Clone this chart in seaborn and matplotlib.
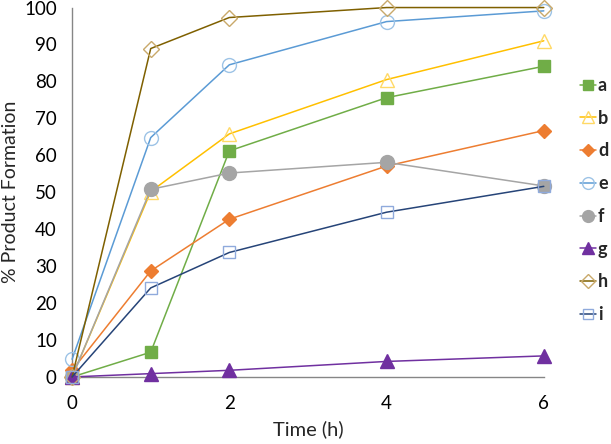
import matplotlib
matplotlib.use("Agg")
import matplotlib.pyplot as plt
import seaborn as sns
import pandas as pd

# time points (h)
time_h = [0, 1, 2, 4, 6]

# % product formation per catalyst
series_names = ["a", "b", "d", "e", "f", "g", "h", "i"]
vals_a = [0, 6.7, 61.2, 75.6, 84.1]
vals_b = [0, 50.2, 65.8, 80.5, 91.0]
vals_d = [1.8, 28.7, 42.7, 57.1, 66.7]
vals_e = [4.8, 64.8, 84.5, 96.2, 99.1]
vals_f = [0, 50.8, 55.2, 58.1, 51.7]
vals_g = [0, 0.9, 1.8, 4.2, 5.7]
vals_h = [0, 88.9, 97.3, 100, 100]
vals_i = [0, 24.1, 33.7, 44.6, 51.6]

all_vals = [vals_a, vals_b, vals_d, vals_e, vals_f, vals_g, vals_h, vals_i]

# styles: marker, line colour, face colour, edge colour
styles = {
    "a": ("s", "#70AD47", "#70AD47", "#70AD47"),
    "b": ("^", "#FFC000", "none", "#FFD966"),
    "d": ("D", "#ED7D31", "#ED7D31", "#ED7D31"),
    "e": ("o", "#5B9BD5", "none", "#9DC3E6"),
    "f": ("o", "#A5A5A5", "#A5A5A5", "#A5A5A5"),
    "g": ("^", "#7030A0", "#7030A0", "#7030A0"),
    "h": ("D", "#7F6000", "none", "#C9A96A"),
    "i": ("s", "#264478", "none", "#8FAADC"),
}
msizes = {"a": 9, "b": 10, "d": 7.5, "e": 10, "f": 10, "g": 10, "h": 8, "i": 9}

df = pd.DataFrame({"t": time_h})
for name, v in zip(series_names, all_vals):
    df[name] = v

sns.set_style("white")
plt.rcParams["font.family"] = ["Lato", "DejaVu Sans"]

fig = plt.figure(figsize=(6.11, 4.44), dpi=100)
ax = fig.add_axes([0.118, 0.151, 0.772, 0.832])

for name in series_names:
    mk, lc, fc, ec = styles[name]
    sns.lineplot(data=df, x="t", y=name, ax=ax, label=name, color=lc,
                 marker=mk, markersize=msizes[name], markerfacecolor=fc,
                 markeredgecolor=ec, markeredgewidth=1.0, linewidth=1.1,
                 clip_on=False, zorder=3)

ax.set_xlim(0, 6)
ax.set_ylim(0, 100)
ax.set_xticks([0, 2, 4, 6])
ax.set_yticks(range(0, 101, 10))
ax.tick_params(axis="both", labelsize=13.5, colors="#868686", labelcolor="black",
               direction="out", length=5, width=1)
ax.tick_params(axis="x", pad=8)
ax.tick_params(axis="y", pad=6)
ax.set_xlabel("Time (h)", fontsize=14.5, labelpad=6)
ax.set_ylabel("% Product Formation", fontsize=14, labelpad=4)

for s in ["top", "right"]:
    ax.spines[s].set_visible(False)
for s in ["left", "bottom"]:
    ax.spines[s].set_color("#868686")
    ax.spines[s].set_linewidth(1)

leg = ax.legend(loc="upper left", bbox_to_anchor=(0.949, 1 - 77 / 444),
                bbox_transform=fig.transFigure, frameon=False,
                handlelength=0.9, handletextpad=0.1, labelspacing=0.87,
                borderpad=0, borderaxespad=0, fontsize=13, markerscale=0.85)
for txt in leg.get_texts():
    txt.set_fontweight("bold")

fig.savefig("out.png", dpi=100)
